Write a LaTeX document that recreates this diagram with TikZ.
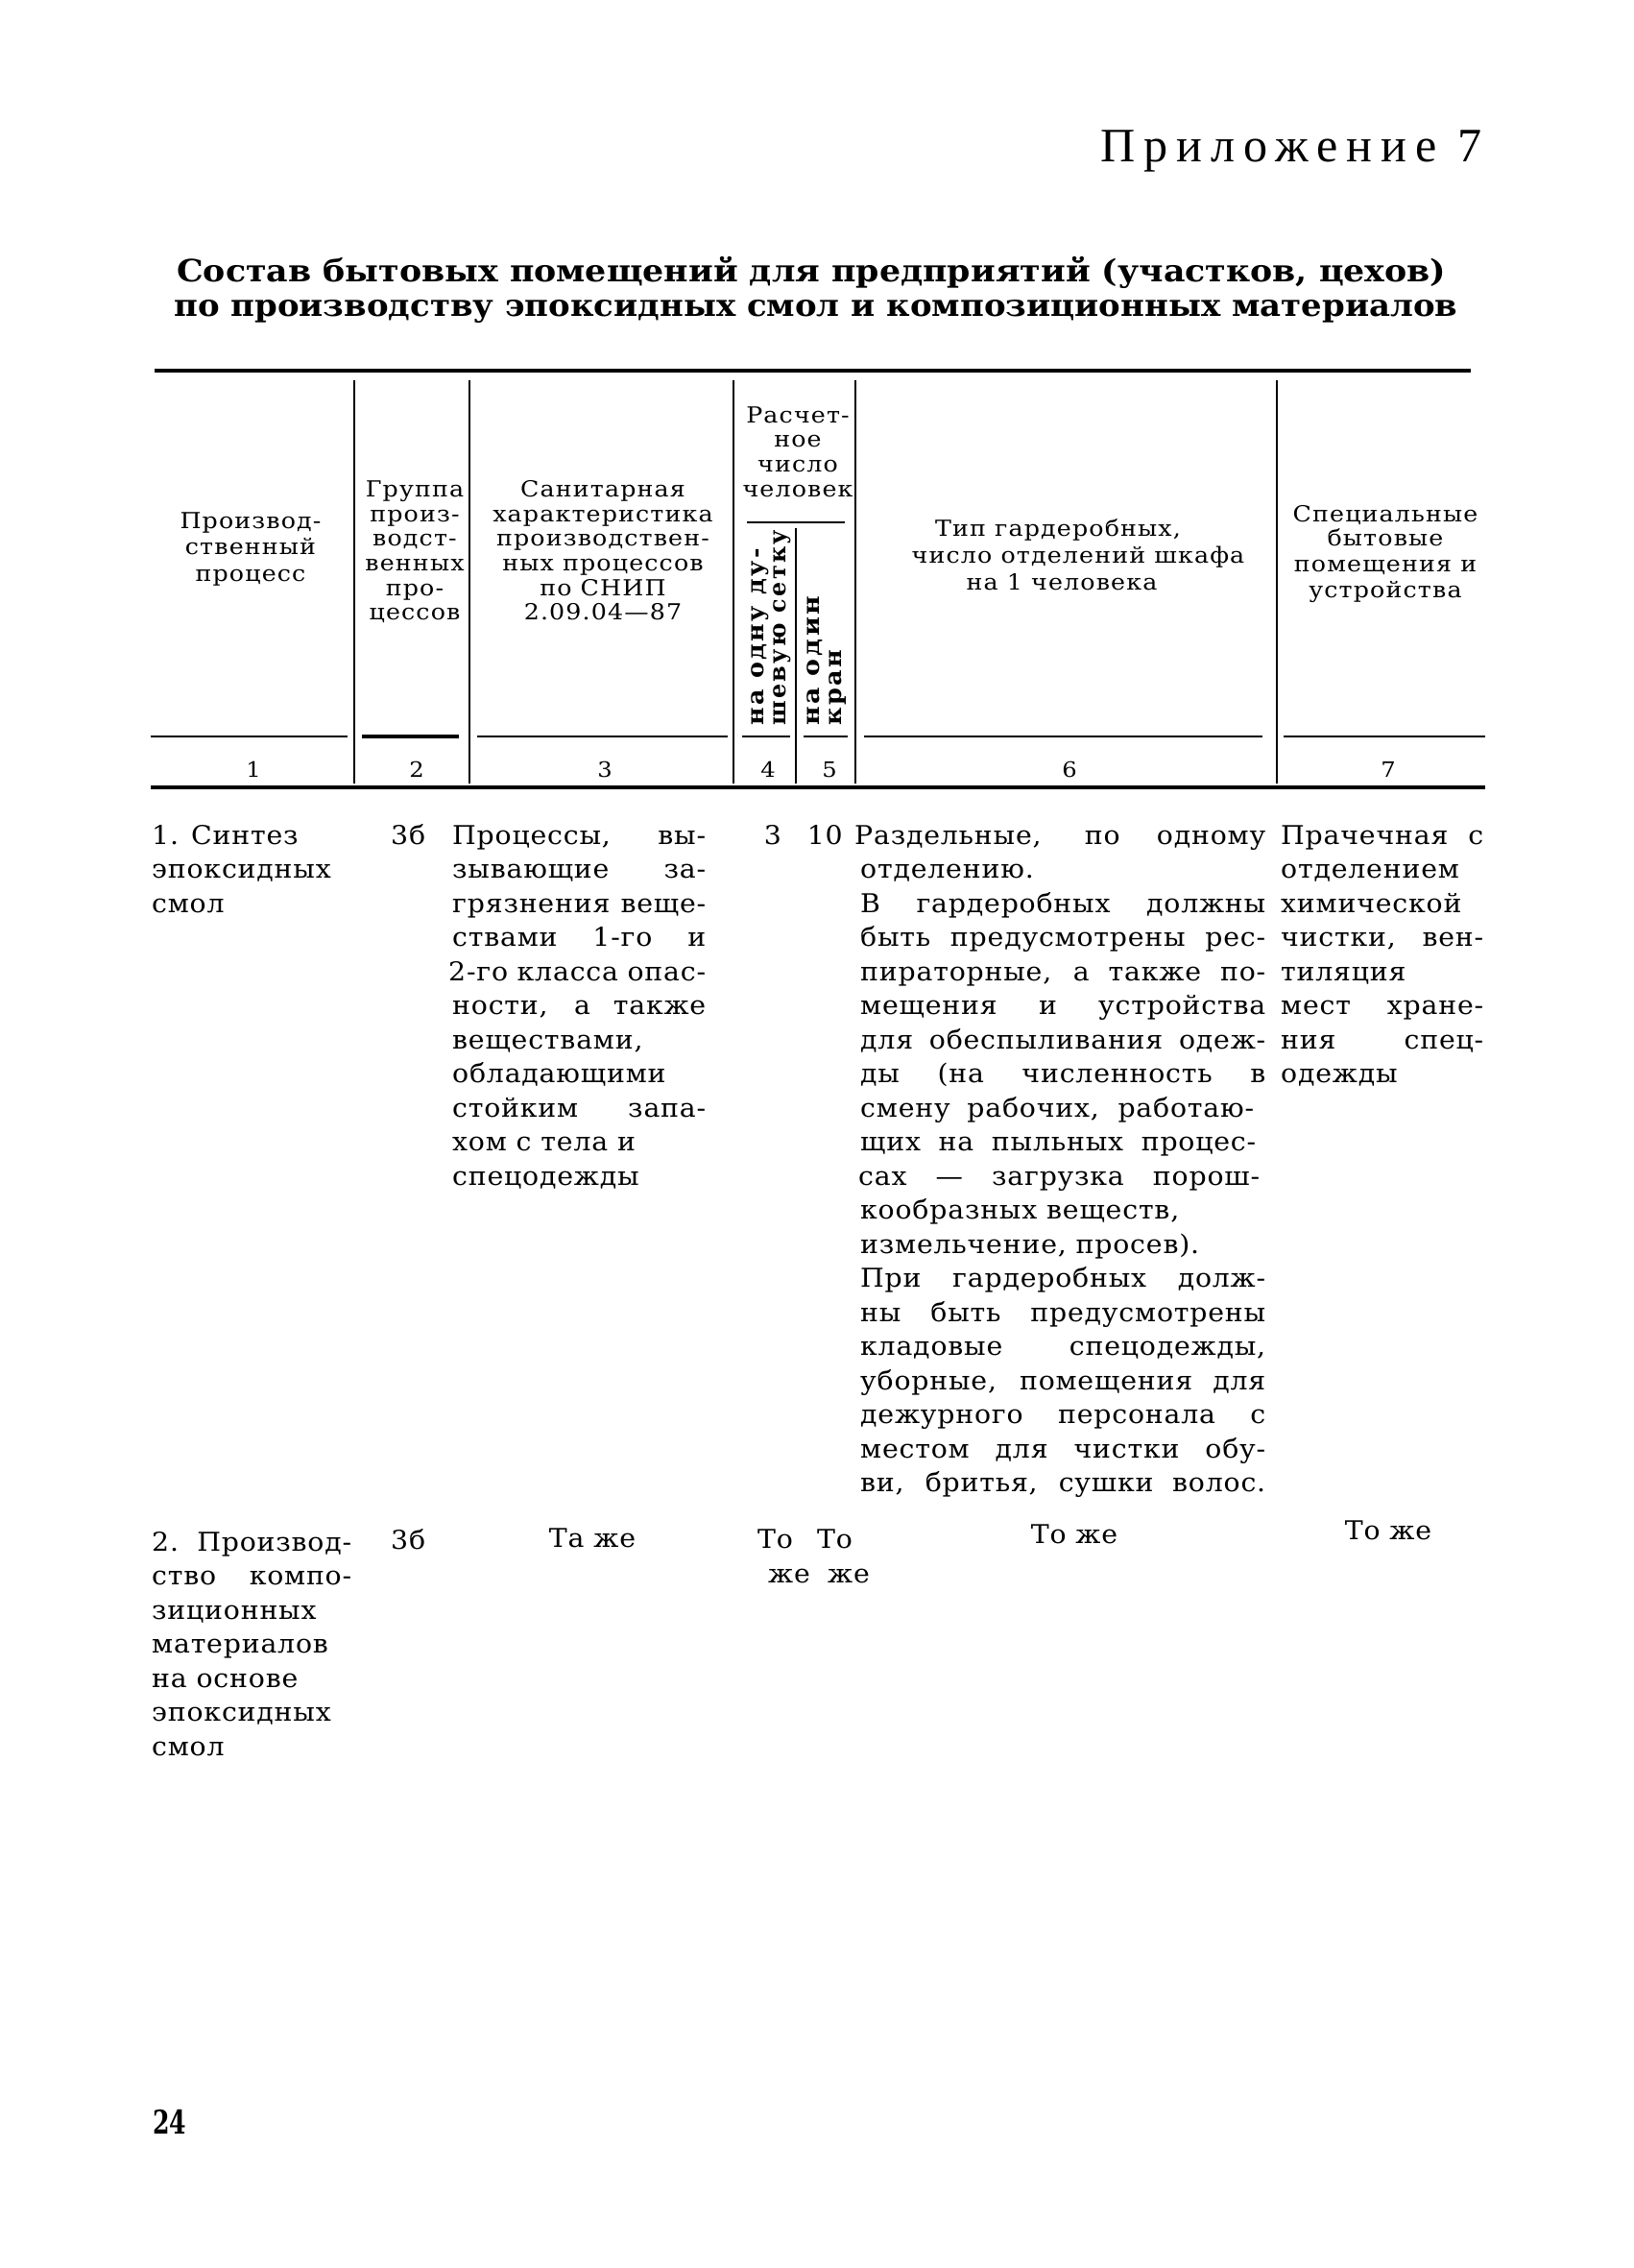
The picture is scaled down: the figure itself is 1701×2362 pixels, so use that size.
\documentclass[tikz,border=0pt]{standalone}
\usepackage{graphicx}
\usepackage{fontspec}
\setmainfont{DejaVu Serif}
\newfontfamily\bodyf[FakeStretch=1.05,LetterSpace=3]{DejaVu Serif}
\newfontfamily\headf[FakeStretch=1.1,LetterSpace=5]{DejaVu Serif}
\newfontfamily\rotf[LetterSpace=10]{DejaVu Serif}
\newfontfamily\titf{DejaVu Serif}
\newfontfamily\appf[LetterSpace=18]{Liberation Serif}
\newcommand\hfit[2]{\resizebox{#1}{\height}{#2}}
\newcommand\lineJ[5]{\node[body] (#1) at (#2,#3) {\makebox[#4pt][s]{#5}};}
\newcommand\lineL[4]{\node[body] (#1) at (#2,#3) {#4};}
\tikzset{
  body/.style={anchor=base west, inner sep=0pt, font=\bodyf\fontsize{27pt}{31pt}\selectfont},
  bodyc/.style={body, anchor=base},
  head/.style={anchor=base, inner sep=0pt, font=\headf\fontsize{23pt}{26pt}\selectfont},
  rothead/.style={anchor=base west, inner sep=0pt, rotate=90, font=\rotf\bfseries\fontsize{24pt}{27pt}\selectfont},
  numrow/.style={anchor=base, inner sep=0pt, font=\headf\fontsize{22pt}{25pt}\selectfont},
  thickrule/.style={line width=3.5pt},
  rule/.style={line width=2.6pt},
  vrule/.style={line width=2pt}
}
\begin{document}
\begin{tikzpicture}[x=1pt,y=-1pt]
\path[use as bounding box, fill=white] (0,0) rectangle (1701,2362);

% heading
\node[anchor=base west, inner sep=0pt, font=\appf\fontsize{50pt}{54pt}\selectfont] (app) at (1146,168) {\hfit{397pt}{Приложение 7}};
\node[anchor=base west, inner sep=0pt, font=\titf\bfseries\fontsize{32pt}{36pt}\selectfont] (tit1) at (184,293) {\hfit{1322pt}{Состав бытовых помещений для предприятий (участков, цехов)}};
\node[anchor=base west, inner sep=0pt, font=\titf\bfseries\fontsize{32pt}{36pt}\selectfont] (tit2) at (181,329) {\hfit{1337pt}{по производству эпоксидных смол и композиционных материалов}};

% rules
\draw[thickrule] (161,386) -- (1532,386);
\draw[thickrule] (157,820) -- (1547,820);
\draw[rule] (157,767) -- (362,767);
\draw[line width=4pt] (377,767) -- (478,767);
\draw[rule] (497,767) -- (758,767);
\draw[rule] (773,767) -- (823,767);
\draw[rule] (837,767) -- (883,767);
\draw[rule] (900,767) -- (1315,767);
\draw[rule] (1337,767) -- (1547,767);
\draw[rule] (778,544) -- (880,544);
\foreach \xx in {369,489,764,891,1330} \draw[vrule] (\xx,396) -- (\xx,816);
\draw[vrule] (829,550) -- (829,816);

% header texts
\node[head] (h1a) at (261,550) {Производ-};
\node[head] (h1b) at (261,577) {ственный};
\node[head] (h1c) at (261,605) {процесс};

\node[head] (h2a) at (432,517) {Группа};
\node[head] (h2b) at (432,543) {произ-};
\node[head] (h2c) at (432,568) {водст-};
\node[head] (h2d) at (432,594) {венных};
\node[head] (h2e) at (432,620) {про-};
\node[head] (h2f) at (432,645) {цессов};

\node[head] (h3a) at (628,517) {Санитарная};
\node[head] (h3b) at (628,543) {характеристика};
\node[head] (h3c) at (628,568) {производствен-};
\node[head] (h3d) at (628,594) {ных процессов};
\node[head] (h3e) at (628,620) {по СНИП};
\node[head] (h3f) at (628,645) {2.09.04—87};

\node[head] (h4a) at (831,440) {Расчет-};
\node[head] (h4b) at (831,465) {ное};
\node[head] (h4c) at (831,491) {число};
\node[head] (h4d) at (831,517) {человек};

\node[rothead] (r4a) at (795,756) {\hfit{185pt}{на одну ду-}};
\node[rothead] (r4b) at (818,756) {\hfit{204pt}{шевую сетку}};
\node[rothead] (r5a) at (853,756) {\hfit{135pt}{на один}};
\node[rothead] (r5b) at (876,756) {\hfit{79pt}{кран}};

\node[head] (h6a) at (1102,558) {Тип гардеробных,};
\node[head] (h6b) at (1123,586) {число отделений шкафа};
\node[head] (h6c) at (1106,614) {на 1 человека};

\node[head] (h7a) at (1443,543) {Специальные};
\node[head] (h7b) at (1443,568) {бытовые};
\node[head] (h7c) at (1443,595) {помещения и};
\node[head] (h7d) at (1443,622) {устройства};

% column numbers
\node[numrow] (n1) at (264,809) {1};
\node[numrow] (n2) at (434,809) {2};
\node[numrow] (n3) at (630,809) {3};
\node[numrow] (n4) at (800,809) {4};
\node[numrow] (n5) at (864,809) {5};
\node[numrow] (n6) at (1114,809) {6};
\node[numrow] (n7) at (1446,809) {7};

% row 1
\lineL{a1}{158}{879}{1. Синтез}
\lineL{a2}{158}{914.5}{эпоксидных}
\lineL{a3}{158}{950}{смол}
\lineL{b1}{407}{879}{3б}

\lineJ{c1}{471}{879}{264}{Процессы, вы-}
\lineJ{c2}{471}{914.5}{264}{зывающие за-}
\lineJ{c3}{471}{950}{264}{грязнения веще-}
\lineJ{c4}{471}{985.5}{264}{ствами 1-го и}
\lineJ{c5}{467}{1021}{268}{2-го класса опас-}
\lineJ{c6}{471}{1056.5}{264}{ности, а также}
\lineL{c7}{471}{1092}{веществами,}
\lineL{c8}{471}{1127.5}{обладающими}
\lineJ{c9}{471}{1163}{264}{стойким запа-}
\lineL{c10}{471}{1198.5}{хом с тела и}
\lineL{c11}{471}{1234}{спецодежды}

\node[bodyc] (d1) at (805,879) {3};
\node[body, anchor=base east] (e1) at (878,879) {10};

\lineJ{f1}{890}{879}{428}{Раздельные, по одному}
\lineL{f2}{896}{914.5}{отделению.}
\lineJ{f3}{896}{950}{422}{В гардеробных должны}
\lineJ{f4}{896}{985.5}{422}{быть предусмотрены рес-}
\lineJ{f5}{896}{1021}{422}{пираторные, а также по-}
\lineJ{f6}{896}{1056.5}{422}{мещения и устройства}
\lineJ{f7}{896}{1092}{422}{для обеспыливания одеж-}
\lineJ{f8}{896}{1127.5}{422}{ды (на численность в}
\lineJ{f9}{896}{1163}{410}{смену рабочих, работаю-}
\lineJ{f10}{896}{1198.5}{412}{щих на пыльных процес-}
\lineJ{f11}{894}{1234}{418}{сах — загрузка порош-}
\lineL{f12}{896}{1269.5}{кообразных веществ,}
\lineL{f13}{896}{1305}{измельчение, просев).}
\lineJ{f14}{896}{1340.5}{422}{При гардеробных долж-}
\lineJ{f15}{896}{1376}{422}{ны быть предусмотрены}
\lineJ{f16}{896}{1411.5}{422}{кладовые спецодежды,}
\lineJ{f17}{896}{1447}{422}{уборные, помещения для}
\lineJ{f18}{896}{1482.5}{422}{дежурного персонала с}
\lineJ{f19}{896}{1518}{422}{местом для чистки обу-}
\lineJ{f20}{896}{1553.5}{422}{ви, бритья, сушки волос.}

\lineJ{g1}{1334}{879}{211}{Прачечная с}
\lineL{g2}{1334}{914.5}{отделением}
\lineL{g3}{1334}{950}{химической}
\lineJ{g4}{1334}{985.5}{211}{чистки, вен-}
\lineL{g5}{1334}{1021}{тиляция}
\lineJ{g6}{1334}{1056.5}{211}{мест хране-}
\lineJ{g7}{1334}{1092}{211}{ния спец-}
\lineL{g8}{1334}{1127.5}{одежды}

% row 2
\lineJ{k1}{158}{1615}{208}{2. Производ-}
\lineJ{k2}{158}{1650.5}{208}{ство компо-}
\lineL{k3}{158}{1686}{зиционных}
\lineL{k4}{158}{1721.5}{материалов}
\lineL{k5}{158}{1757}{на основе}
\lineL{k6}{158}{1792.5}{эпоксидных}
\lineL{k7}{158}{1828}{смол}
\lineL{m1}{407}{1613}{3б}
\node[bodyc] (m2) at (617,1611) {Та же};
\lineL{m3}{789}{1612}{То}
\lineL{m4}{800}{1648}{же}
\lineL{m5}{851}{1612}{То}
\lineL{m6}{862}{1648}{же}
\node[bodyc] (m7) at (1119,1607) {То же};
\node[bodyc] (m8) at (1446,1603) {То же};

% page number
\node[anchor=base west, inner sep=0pt, font=\titf\bfseries\fontsize{34pt}{38pt}\selectfont] (pg) at (159,2222) {\hfit{35pt}{24}};
\end{tikzpicture}
\end{document}
